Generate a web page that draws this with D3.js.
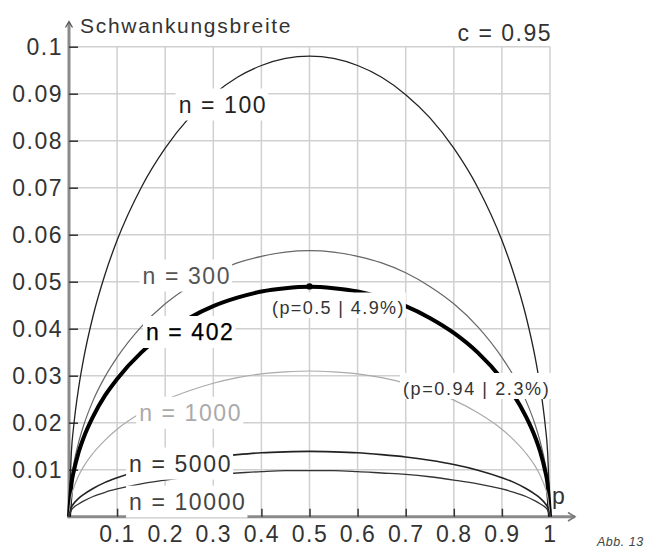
<!DOCTYPE html>
<html>
<head>
<meta charset="utf-8">
<script src="https://cdn.jsdelivr.net/npm/d3@7"></script>
<style>
  html, body { margin: 0; padding: 0; background: #fff; }
  svg { display: block; font-family: "Liberation Sans", Arial, sans-serif; }
</style>
</head>
<body>
<svg id="chart" width="651" height="547"></svg>
<script>
// ---- data ----
const pValues = [0, 0.005, 0.01, 0.02, 0.03, 0.05, 0.075, 0.1, 0.15, 0.2, 0.25, 0.3, 0.35, 0.4, 0.45, 0.5,
                 0.55, 0.6, 0.65, 0.7, 0.75, 0.8, 0.85, 0.9, 0.925, 0.95, 0.97, 0.98, 0.99, 0.995, 1];
const n100   = [0, 0.0138, 0.0195, 0.0274, 0.0334, 0.0427, 0.0516, 0.0588, 0.0700, 0.0784, 0.0849, 0.0898, 0.0935, 0.0960, 0.0975, 0.0980,
                0.0975, 0.0960, 0.0935, 0.0898, 0.0849, 0.0784, 0.0700, 0.0588, 0.0516, 0.0427, 0.0334, 0.0274, 0.0195, 0.0138, 0];
const n300   = [0, 0.0080, 0.0113, 0.0158, 0.0193, 0.0247, 0.0298, 0.0339, 0.0404, 0.0453, 0.0490, 0.0519, 0.0540, 0.0554, 0.0563, 0.0566,
                0.0563, 0.0554, 0.0540, 0.0519, 0.0490, 0.0453, 0.0404, 0.0339, 0.0298, 0.0247, 0.0193, 0.0158, 0.0113, 0.0080, 0];
const n402   = [0, 0.0069, 0.0097, 0.0137, 0.0167, 0.0213, 0.0258, 0.0293, 0.0349, 0.0391, 0.0423, 0.0448, 0.0466, 0.0479, 0.0486, 0.0489,
                0.0486, 0.0479, 0.0466, 0.0448, 0.0423, 0.0391, 0.0349, 0.0293, 0.0258, 0.0213, 0.0167, 0.0137, 0.0097, 0.0069, 0];
const n1000  = [0, 0.0044, 0.0062, 0.0087, 0.0106, 0.0135, 0.0163, 0.0186, 0.0221, 0.0248, 0.0268, 0.0284, 0.0296, 0.0304, 0.0308, 0.0310,
                0.0308, 0.0304, 0.0296, 0.0284, 0.0268, 0.0248, 0.0221, 0.0186, 0.0163, 0.0135, 0.0106, 0.0087, 0.0062, 0.0044, 0];
const n5000  = [0, 0.0020, 0.0028, 0.0039, 0.0047, 0.0060, 0.0073, 0.0083, 0.0099, 0.0111, 0.0120, 0.0127, 0.0132, 0.0136, 0.0138, 0.0139,
                0.0138, 0.0136, 0.0132, 0.0127, 0.0120, 0.0111, 0.0099, 0.0083, 0.0073, 0.0060, 0.0047, 0.0039, 0.0028, 0.0020, 0];
const n10000 = [0, 0.0014, 0.0020, 0.0027, 0.0033, 0.0043, 0.0052, 0.0059, 0.0070, 0.0078, 0.0085, 0.0090, 0.0093, 0.0096, 0.0098, 0.0098,
                0.0098, 0.0096, 0.0093, 0.0090, 0.0085, 0.0078, 0.0070, 0.0059, 0.0052, 0.0043, 0.0033, 0.0027, 0.0020, 0.0014, 0];
const seriesNames = ["n = 100", "n = 300", "n = 402", "n = 1000", "n = 5000", "n = 10000"];
const seriesData = [n100, n300, n402, n1000, n5000, n10000];
// label anchor points (p, value)
const labelP = [0.23, 0.155, 0.162, 0.148, 0.127, 0.127];
const labelV = [0.0877, 0.0513, 0.0393, 0.0221, 0.0113, 0.0032];
const markedP = [0.5, 0.94];
const markedV = [0.049, 0.023];
const markedText = ["(p=0.5 | 4.9%)", "(p=0.94 | 2.3%)"];
const xTicks = [0.1, 0.2, 0.3, 0.4, 0.5, 0.6, 0.7, 0.8, 0.9, 1];
const xTickLabels = ["0.1", "0.2", "0.3", "0.4", "0.5", "0.6", "0.7", "0.8", "0.9", "1"];
const yTicks = [0.01, 0.02, 0.03, 0.04, 0.05, 0.06, 0.07, 0.08, 0.09, 0.1];
const yTickLabels = ["0.01", "0.02", "0.03", "0.04", "0.05", "0.06", "0.07", "0.08", "0.09", "0.1"];
const yTitle = "Schwankungsbreite";
const xTitle = "p";
const confText = "c = 0.95";
const figText = "Abb. 13";

// ---- styles ----
const lineColors = ["#222", "#666", "#000", "#aaa", "#222", "#333"];
const lineWidths = [1.3, 1.2, 4, 1.2, 1.6, 1.3];
const labelColors = ["#222", "#555", "#000", "#aaa", "#333", "#444"];

const svg = d3.select("#chart");
const x = d3.scaleLinear().domain([0, 1]).range([69, 550]);
const y = d3.scaleLinear().domain([0, 0.1]).range([516.7, 46.7]);

// grid
const grid = svg.append("g");
grid.selectAll("line.v").data(xTicks).join("line")
  .attr("x1", d => x(d)).attr("x2", d => x(d))
  .attr("y1", y(0)).attr("y2", y(0.1))
  .attr("stroke", "#d0d0d0").attr("stroke-width", 1.5);
grid.selectAll("line.h").data(yTicks).join("line")
  .attr("x1", x(0)).attr("x2", x(1))
  .attr("y1", d => y(d)).attr("y2", d => y(d))
  .attr("stroke", "#d0d0d0").attr("stroke-width", 1.5);

// axes lines with arrows
svg.append("line").attr("x1", x(0)).attr("x2", x(0)).attr("y1", y(0) + 1.5).attr("y2", 23)
  .attr("stroke", "#8a8a8a").attr("stroke-width", 3);
svg.append("line").attr("x1", x(0) - 1.5).attr("x2", 575).attr("y1", y(0)).attr("y2", y(0))
  .attr("stroke", "#8a8a8a").attr("stroke-width", 3);
svg.append("path").attr("d", "M65.5,27.5L69,21.5L72.5,27.5")
  .attr("fill", "none").attr("stroke", "#555").attr("stroke-width", 1.3);
svg.append("path").attr("d", `M568,512.5L575,${y(0)}L568,521`)
  .attr("fill", "none").attr("stroke", "#777").attr("stroke-width", 1.5);

// inward ticks via d3 axes
const yAxisTicks = d3.axisRight(y).tickValues(yTicks).tickSize(9).tickFormat("");
const gyt = svg.append("g").attr("transform", `translate(${x(0)},0)`).call(yAxisTicks);
gyt.select(".domain").remove();
gyt.selectAll(".tick line").attr("stroke", "#333").attr("stroke-width", 1.5);
const xAxisTicks = d3.axisTop(x).tickValues(xTicks).tickSize(8).tickFormat("");
const gxt = svg.append("g").attr("transform", `translate(0,${y(0)})`).call(xAxisTicks);
gxt.select(".domain").remove();
gxt.selectAll(".tick line").attr("stroke", "#333").attr("stroke-width", 1.5);

// tick labels via d3 axes
const yAxis = d3.axisLeft(y).tickValues(yTicks).tickSize(0).tickPadding(6)
  .tickFormat((d, i) => yTickLabels[i]);
const gy = svg.append("g").attr("transform", `translate(${x(0)},0)`).call(yAxis);
gy.select(".domain").remove();
gy.selectAll("text").attr("font-size", 23).attr("letter-spacing", 1.5)
  .attr("fill", "#333").attr("font-family", "Liberation Sans, Arial, sans-serif");
const xAxis = d3.axisBottom(x).tickValues(xTicks).tickSize(0).tickPadding(9)
  .tickFormat((d, i) => xTickLabels[i]);
const gx = svg.append("g").attr("transform", `translate(0,${y(0)})`).call(xAxis);
gx.select(".domain").remove();
gx.selectAll("text").attr("font-size", 23).attr("letter-spacing", 1.5)
  .attr("fill", "#333").attr("font-family", "Liberation Sans, Arial, sans-serif");

// curves
const line = d3.line().x(d => x(d[0])).y(d => y(d[1])).curve(d3.curveMonotoneX);
seriesData.forEach((vals, i) => {
  svg.append("path")
    .datum(pValues.map((p, k) => [p, vals[k]]))
    .attr("d", line)
    .attr("fill", "none")
    .attr("stroke", lineColors[i])
    .attr("stroke-width", lineWidths[i])
    .attr("stroke-linejoin", "round");
});

// curve labels with white backgrounds
function label(text, tx, ty, size, ls, color, top, bottom) {
  const g = svg.append("g");
  const r = g.append("rect").attr("fill", "#fff");
  const t = g.append("text").attr("x", tx).attr("y", ty)
    .attr("font-size", size).attr("letter-spacing", ls).attr("fill", color).text(text);
  const bb = t.node().getBBox();
  r.attr("x", bb.x - 3).attr("width", bb.width + 4)
   .attr("y", ty - top).attr("height", top + bottom);
  return t;
}
seriesNames.forEach((nm, i) => {
  const tx = x(labelP[i]) - 1;
  const ty = y(labelV[i]) + 8.5;
  const t = label(nm, tx, ty, 23, 1.6, labelColors[i], 24.5, 7.5);
  if (i === 2) t.attr("stroke", "#000").attr("stroke-width", 0.25);
});

// marked point
svg.append("circle").attr("cx", x(markedP[0])).attr("cy", y(markedV[0])).attr("r", 3.2).attr("fill", "#000");
label(markedText[0], 272, 313.5, 18, 1.4, "#333", 21, 4.5);
label(markedText[1], 403, 395, 18, 1.6, "#333", 22, 4);

// titles
svg.append("text").attr("x", 80).attr("y", 33.3).attr("font-size", 21).attr("letter-spacing", 1.7)
  .attr("fill", "#333").text(yTitle);
svg.append("text").attr("x", 552).attr("y", 40.5).attr("text-anchor", "end")
  .attr("font-size", 23).attr("letter-spacing", 1.5).attr("fill", "#333").text(confText);
svg.append("text").attr("x", 552).attr("y", 503.5).attr("font-size", 23)
  .attr("fill", "#333").text(xTitle);
svg.append("text").attr("x", 597).attr("y", 545.5).attr("font-size", 12.5).attr("font-style", "italic")
  .attr("letter-spacing", 0.5).attr("fill", "#444").text(figText);
</script>
</body>
</html>
